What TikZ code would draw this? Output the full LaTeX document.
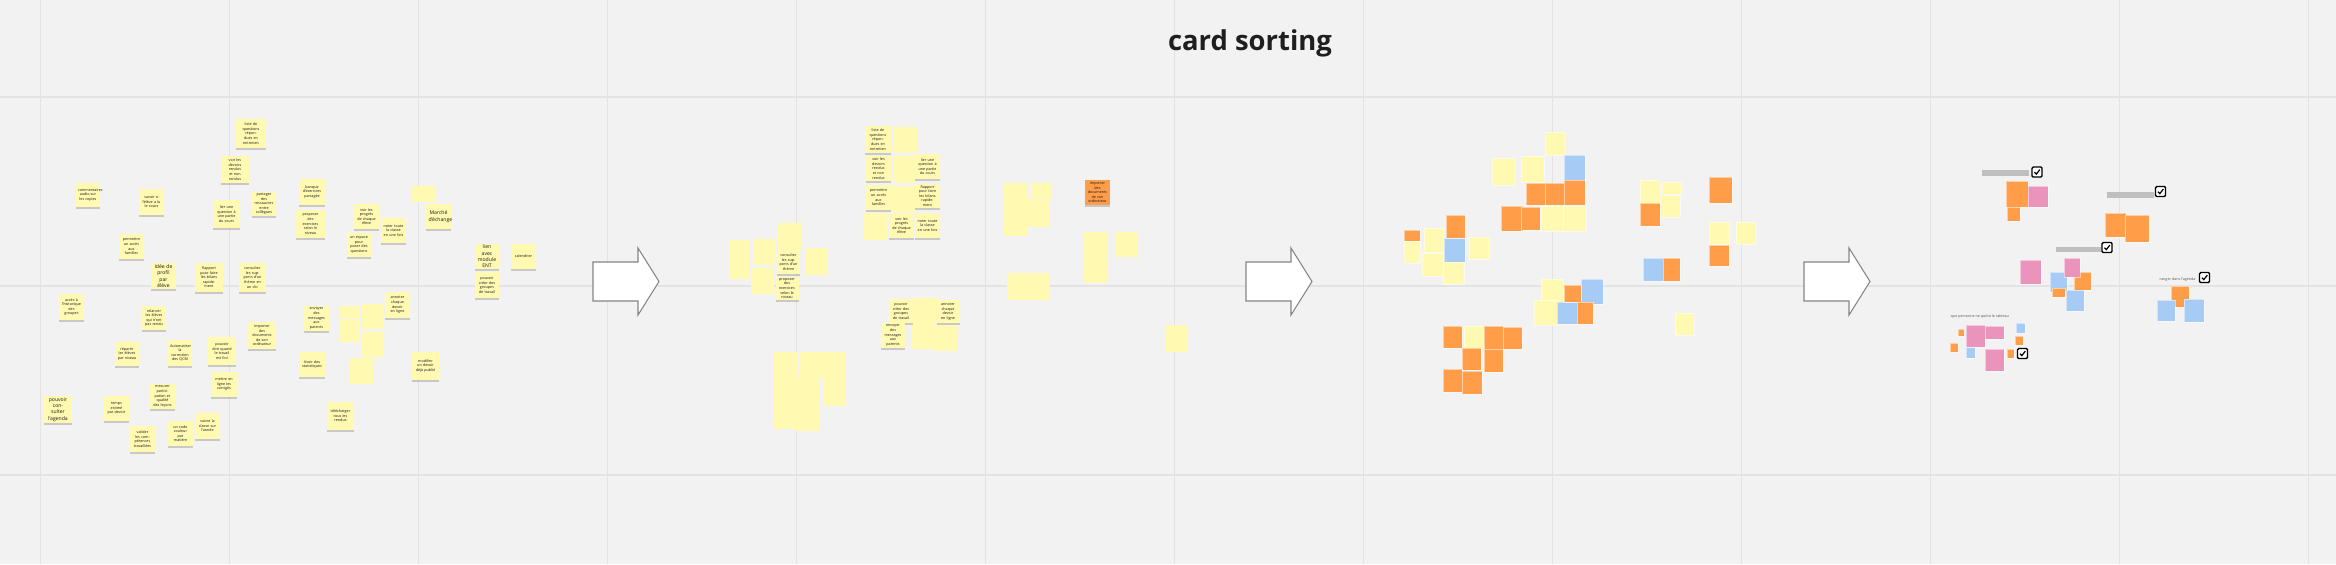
\documentclass[tikz,border=0pt]{standalone}
\usepackage{fontspec}
\setmainfont{Open Sans}
\usepackage{xcolor}
\usepackage{tikz}
\usetikzlibrary{shadows}

\definecolor{boardgray}{HTML}{F2F2F2}
\definecolor{gridgray}{HTML}{E3E3E3}
\definecolor{notey}{HTML}{FFF9B1}
\definecolor{noteo}{HTML}{FF9D48}
\definecolor{noteb}{HTML}{A6CCF5}
\definecolor{notep}{HTML}{EA94BB}
\definecolor{notetext}{HTML}{1A1A1A}
\definecolor{bargray}{HTML}{BFBFBF}
\definecolor{arrowgray}{HTML}{858585}

\tikzset{
    gridline/.style={draw=gridgray, line width=0.15mm},
    card/.style={fill=notey, inner sep=0.15mm, align=center, text width=2mm,
        text=notetext, font=\fontsize{1.05}{1.3}\selectfont,
        drop shadow={shadow xshift=0pt, shadow yshift=-0.45pt, opacity=0.25, fill=black!70}},
    bigcard/.style={card, font=\fontsize{1.45}{1.8}\selectfont},
    colorcard/.style={draw=white, draw opacity=0.5, line width=0.12pt},
    bigarrow/.style={draw=arrowgray, fill=white, line width=0.3pt},
    checkbox/.style={draw=black, fill=white, line width=0.4pt, rounded corners=0.35pt,
        minimum size=1mm, inner sep=0pt},
    tick/.style={draw=black, line width=0.35pt},
    sidenote/.style={text=black!65, font=\fontsize{1.05}{1.2}\selectfont, inner sep=0pt, anchor=west},
    title/.style={font=\fontsize{7.8}{9}\selectfont\bfseries, text=black!88, inner sep=0pt, anchor=base}
}

\newcommand{\stickynote}[7][card]{%
    \node (#2) [#1, minimum width={(#5-#3)*0.1mm}, minimum height={(#6-#4)*0.1mm}]
        at ({(#3+#5)/2},{(#4+#6)/2}) {#7};}
\newcommand{\tickbox}[3]{%
    \node (#1) [checkbox] at (#2,#3) {};
    \draw[tick] ({#2-2.6},{#3+0.2}) -- ({#2-0.7},{#3+2.1}) -- ({#2+2.8},{#3-2.4});}

\begin{document}
\begin{tikzpicture}[x=0.1mm, y=-0.1mm]
    \useasboundingbox (0,0) rectangle (2336,564);
    \fill[boardgray] (0,0) rectangle (2336,564);
    \foreach \gx in {0,...,12}
        \draw[gridline] ({40.5+189*\gx},0) -- ({40.5+189*\gx},564);
    \foreach \gy in {97,286,475}
        \draw[gridline] (0,\gy) -- (2336,\gy);

    \node (title) [title] at (1250,50) {card sorting};

    % first board: all the cards
    \fill[notey] (411,186) rectangle (436,202);
    \foreach \a/\b/\c/\d in {340/306/359/318, 340/319/359/342, 362/304/384/329,
        361/332/383/357, 349/358/374/384}
        \fill[notey] (\a,\b) rectangle (\c,\d);
    \stickynote{c1}{236}{119}{266}{148}{liste de questions répondues en entretien}
    \stickynote{c2}{221}{156}{249}{183}{voir les devoirs rendus et non rendus}
    \stickynote{c3}{76}{183}{100}{207}{commentaires audio sur les copies}
    \stickynote{c4}{139}{189}{164}{215}{savoir si l'élève a lu le cours}
    \stickynote{c5}{213}{200}{240}{228}{lier une question à une partie du cours}
    \stickynote{c6}{252}{192}{276}{216}{partager des ressources entre collègues}
    \stickynote{c7}{299}{179}{325}{205}{banque d'exercices partagée}
    \stickynote{c8}{296}{210}{325}{238}{proposer des exercices selon le niveau}
    \stickynote{c9}{119}{234}{144}{259}{permettre un accès aux familles}
    \stickynote[bigcard]{c10}{151}{263}{176}{289}{Idée de profil par élève}
    \stickynote{c11}{195}{263}{223}{292}{Rapport pour faire les bilans rapidement}
    \stickynote{c12}{239}{263}{266}{292}{consulter les supports d'un thème en un clic}
    \stickynote{c13}{354}{204}{379}{229}{voir les progrès de chaque élève}
    \stickynote{c14}{381}{218}{406}{243}{noter toute la classe en une fois}
    \stickynote{c15}{347}{233}{371}{257}{un espace pour poser des questions}
    \stickynote[bigcard]{c17}{426}{204}{451}{229}{Marché d'échange}
    \stickynote[bigcard]{c18}{475}{244}{499}{269}{lien avec module ENT}
    \stickynote{c19}{511}{244}{536}{269}{calendrier}
    \stickynote{c20}{475}{272}{499}{298}{pouvoir créer des groupes de travail}
    \stickynote{c21}{59}{294}{84}{320}{accès à l'historique des groupes}
    \stickynote{c22}{142}{306}{166}{330}{relancer les élèves qui n'ont pas rendu}
    \stickynote{c23}{385}{292}{410}{318}{annoter chaque devoir en ligne}
    \stickynote{c24}{304}{306}{329}{331}{envoyer des messages aux parents}
    \stickynote{c29}{248}{322}{276}{349}{importer des documents de son ordinateur}
    \stickynote{c30}{115}{342}{139}{366}{répartir les élèves par niveau}
    \stickynote{c31}{168}{340}{192}{366}{Automatiser la correction des QCM}
    \stickynote{c32}{208}{337}{236}{365}{pouvoir dire quand le travail est fini}
    \stickynote{c33}{299}{352}{325}{377}{Avoir des statistiques}
    \stickynote{c34}{412}{352}{439}{380}{modifier un devoir déjà publié}
    \stickynote{c35}{211}{372}{237}{397}{mettre en ligne les corrigés}
    \stickynote{c36}{150}{384}{175}{409}{mesurer participation et qualité des leçons}
    \stickynote[bigcard]{c37}{44}{396}{72}{423}{pouvoir consulter l'agenda}
    \stickynote{c38}{104}{396}{129}{421}{temps estimé par devoir}
    \stickynote{c39}{327}{402}{354}{430}{télécharger tous les rendus}
    \stickynote{c40}{130}{426}{155}{452}{valider les compétences travaillées}
    \stickynote{c41}{168}{421}{193}{446}{un code couleur par matière}
    \stickynote{c42}{195}{413}{220}{439}{suivre la classe sur l'année}

    \foreach \ax in {593,1246,1804}
        \draw[bigarrow] (\ax,262) -- ({\ax+45},262) -- ({\ax+45},248) -- ({\ax+66},281.5)
            -- ({\ax+45},315) -- ({\ax+45},301) -- (\ax,301) -- cycle;

    % second board: first groups
    \foreach \a/\b/\c/\d in {894/127/917/153, 893/156/915/183, 891/186/915/212, 864/213/887/240,
        729/240/749/253, 729/253/749/279, 753/239/775/265, 778/223/801/250, 805/248/828/275,
        751/268/774/294, 774/352/797/378, 774/378/797/403, 774/403/797/429, 799/352/823/378,
        796/378/820/405, 796/405/820/431, 823/352/846/378, 823/378/846/406, 913/298/937/323,
        911/323/934/349, 933/325/957/351, 1003/183/1027/210, 1003/210/1027/236,
        1031/183/1051/198, 1027/199/1050/227, 1084/232/1107/257, 1084/257/1107/283,
        1116/232/1138/257, 1007/273/1029/300, 1029/273/1050/300, 1165/325/1188/352}
        \fill[notey] (\a,\b) rectangle (\c,\d);
    \stickynote{g1}{865}{126}{891}{153}{liste de questions répondues en entretien}
    \stickynote{g2}{866}{156}{891}{181}{voir les devoirs rendus et non rendus}
    \stickynote{g3}{915}{154}{940}{179}{lier une question à une partie du cours}
    \stickynote{g4}{866}{185}{891}{210}{permettre un accès aux familles}
    \stickynote{g5}{915}{184}{940}{208}{Rapport pour faire les bilans rapidement}
    \stickynote{g6}{889}{213}{914}{238}{voir les progrès de chaque élève}
    \stickynote{g7}{915}{213}{940}{238}{noter toute la classe en une fois}
    \stickynote{g8}{777}{250}{800}{274}{consulter les supports d'un thème}
    \stickynote{g9}{776}{277}{798}{300}{proposer des exercices selon le niveau}
    \stickynote{g10}{889}{299}{913}{323}{pouvoir créer des groupes de travail}
    \stickynote{g11}{937}{300}{959}{323}{annoter chaque devoir en ligne}
    \stickynote{g12}{881}{323}{905}{348}{envoyer des messages aux parents}
    \stickynote[card, fill=noteo]{g13}{1085}{180}{1110}{205}{importer des documents de son ordinateur}

    % third board: colours
    \foreach \a/\b/\c/\d in {1545/132/1565/155, 1492/158/1515/185, 1521/156/1544/182,
        1541/206/1563/231, 1563/206/1586/231, 1404/241/1420/263, 1424/228/1444/252,
        1469/237/1489/259, 1422/253/1443/276, 1443/260/1464/284, 1464/326/1484/348,
        1541/279/1563/302, 1534/300/1557/325, 1640/180/1660/203, 1662/182/1681/194,
        1660/195/1680/217, 1709/222/1729/244, 1736/222/1756/244, 1675/313/1694/335}
        \fill[notey, colorcard] (\a,\b) rectangle (\c,\d);
    \foreach \a/\b/\c/\d in {1564/155/1585/180, 1444/238/1465/262, 1581/279/1603/304,
        1557/302/1577/324, 1643/258/1663/281}
        \filldraw[fill=noteb, colorcard] (\a,\b) rectangle (\c,\d);
    \foreach \a/\b/\c/\d in {1526/183/1545/205, 1545/183/1564/205, 1564/180/1585/205,
        1501/206/1523/231, 1521/207/1540/230, 1404/230/1420/241, 1446/215/1465/238,
        1443/326/1462/348, 1484/326/1503/349, 1503/327/1522/349, 1462/348/1481/370,
        1484/349/1503/372, 1443/369/1462/392, 1462/371/1482/394, 1564/285/1581/302,
        1577/302/1593/324, 1640/203/1660/226, 1709/177/1732/203, 1709/245/1729/266,
        1663/258/1680/281}
        \filldraw[fill=noteo, colorcard] (\a,\b) rectangle (\c,\d);

    % fourth board: votes
    \foreach \a/\b/\c/\d in {1982/170/2029/176, 2107/192/2154/198, 2056/247/2101/252}
        \fill[bargray] (\a,\b) rectangle (\c,\d);
    \foreach \a/\b/\c/\d in {2006/181/2028/207, 2007/207/2020/221, 2105/213/2126/237,
        2125/215/2149/242, 2074/272/2091/290, 2171/286/2189/307, 1958/329/1964/336,
        2015/336/2023/345, 1950/343/1958/352, 2007/349/2014/358}
        \filldraw[fill=noteo, colorcard] (\a,\b) rectangle (\c,\d);
    \foreach \a/\b/\c/\d in {2050/272/2067/292, 2066/290/2084/311, 2157/300/2175/321,
        2184/299/2204/322, 2016/323/2025/333, 1966/347/1975/358}
        \filldraw[fill=noteb, colorcard] (\a,\b) rectangle (\c,\d);
    \foreach \a/\b/\c/\d in {2028/186/2048/207, 2020/260/2041/284, 2064/258/2080/277,
        1966/325/1985/347, 1985/326/2004/339, 1985/349/2004/371}
        \filldraw[fill=notep, colorcard] (\a,\b) rectangle (\c,\d);
    \filldraw[fill=noteo, colorcard] (2052,288) rectangle (2065,297);
    \node (n1) [sidenote] at (1950,317) {que personne ne quitte le tableau};
    \node (n2) [sidenote] at (2159,280) {ranger dans l'agenda};
    \tickbox{k1}{2037}{172}
    \tickbox{k2}{2160.5}{191.5}
    \tickbox{k3}{2107}{247.5}
    \tickbox{k4}{2204.5}{277.5}
    \tickbox{k5}{2022.5}{353.5}
\end{tikzpicture}
\end{document}
